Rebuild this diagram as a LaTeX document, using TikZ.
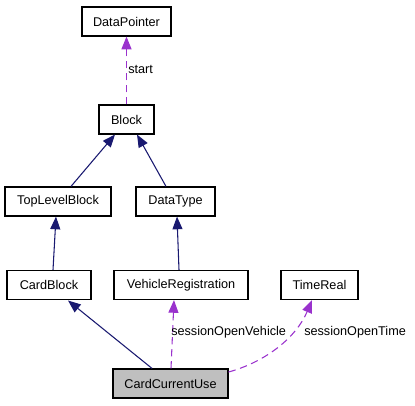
\documentclass[tikz,border=0pt]{standalone}
\usepackage{fontspec}
\setmainfont{Liberation Sans}
\usetikzlibrary{arrows.meta}
\definecolor{edgeblue}{HTML}{191970}
\definecolor{edgepurple}{HTML}{9A32CD}
\tikzset{
  cls/.style={draw=black, line width=0.9pt, fill=white, minimum height=29*0.75pt, inner sep=0pt, font=\fontsize{9.5}{11}\selectfont},
  inherit/.style={draw=edgeblue, line width=0.8pt, -{Triangle[length=9.5pt,width=7.5pt]}},
  usage/.style={draw=edgepurple, line width=0.8pt, dash pattern=on 5.5pt off 3.5pt, -{Triangle[length=9.5pt,width=7.5pt]}},
  lbl/.style={anchor=west, inner sep=0pt, font=\fontsize{9.5}{11}\selectfont}
}
\begin{document}
\begin{tikzpicture}[x=0.75pt,y=-0.75pt]
\useasboundingbox (0,0) rectangle (415,405);
\node[cls, minimum width=89*0.75pt] (dp) at (126.5,21.5) {DataPointer};
\node[cls, minimum width=55*0.75pt] (blk) at (126.5,119.5) {Block};
\node[cls, minimum width=106*0.75pt] (tlb) at (58,201.5) {TopLevelBlock};
\node[cls, minimum width=79*0.75pt] (dt) at (175.5,201.5) {DataType};
\node[cls, minimum width=84*0.75pt] (cb) at (49,285) {CardBlock};
\node[cls, minimum width=134*0.75pt] (vr) at (181,285) {VehicleRegistration};
\node[cls, minimum width=77*0.75pt] (tr) at (319.5,285) {TimeReal};
\node[cls, minimum width=115*0.75pt, fill={rgb,255:red,191;green,191;blue,191}] (ccu) at (170.5,383.5) {CardCurrentUse};

\coordinate (blkb1) at (115,134.5);
\coordinate (blkb2) at (137,134.5);
\coordinate (cbb) at (68,300.5);
\draw[usage] (blk.north) -- (dp.south);
\draw[inherit] (tlb.north -| 71,0) -- (blkb1);
\draw[inherit] (dt.north -| 166,0) -- (blkb2);
\draw[inherit] (cb.north -| 53,0) -- (tlb.south -| 56,0);
\draw[inherit] (vr.north -| 179,0) -- (dt.south -| 177,0);
\draw[inherit] (ccu.north -| 152,0) -- (cbb);
\draw[usage] (ccu.north -| 171,0) -- (vr.south -| 174,0);
\draw[usage] (ccu.east |- 0,372) .. controls (265,362) and (296,338) .. (tr.south -| 312,0);

\node[lbl] (l1) at (128,69) {start};
\node[lbl] (l2) at (171,332) {sessionOpenVehicle};
\node[lbl] (l3) at (304,332) {sessionOpenTime};
\end{tikzpicture}
\end{document}
